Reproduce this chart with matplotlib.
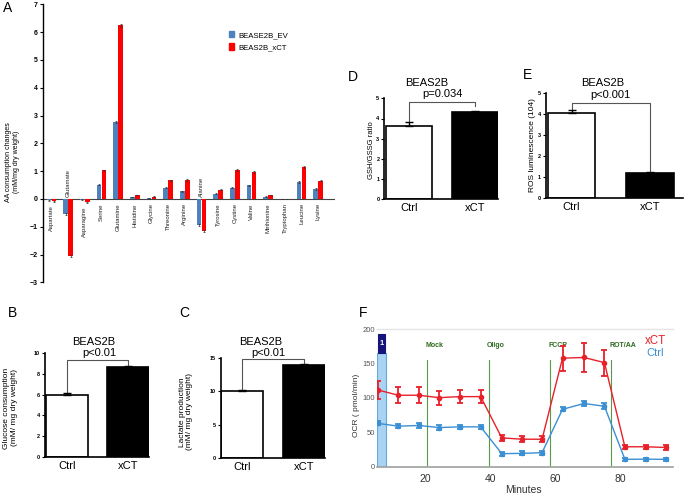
import matplotlib
matplotlib.use('Agg')
import matplotlib.pyplot as plt
from matplotlib.patches import Rectangle, Patch

plt.rcParams['font.family'] = ['Liberation Sans', 'DejaVu Sans']
NARROW = ['Liberation Sans Narrow', 'Liberation Sans', 'DejaVu Sans']

# ---------------- data ----------------
amino_acids = ['Aspartate', 'Glutamate', 'Asparagine', 'Serine', 'Glutamine', 'Histidine',
               'Glycine', 'Threonine', 'Arginine', 'Alanine', 'Tyrosine', 'Cystine',
               'Valine', 'Methionine', 'Tryptophan', 'Leucine', 'Lysine']
ev_values = [-0.04, -0.55, -0.02, 0.52, 2.78, 0.07, 0.02, 0.40, 0.27, -0.93, 0.19, 0.40,
             0.50, 0.08, 0.00, 0.62, 0.36]
xct_values = [-0.08, -2.05, -0.12, 1.03, 6.25, 0.14, 0.08, 0.67, 0.68, -1.15, 0.34, 1.03,
              0.97, 0.14, 0.00, 1.15, 0.65]
ev_err = [0.02, 0.03, 0.01, 0.03, 0.04, 0.01, 0.01, 0.02, 0.02, 0.03, 0.02, 0.02,
          0.02, 0.01, 0.0, 0.03, 0.02]
xct_err = [0.02, 0.05, 0.02, 0.03, 0.05, 0.01, 0.01, 0.03, 0.03, 0.04, 0.02, 0.04,
           0.02, 0.01, 0.0, 0.03, 0.02]
series_names = ['BEASE2B_EV', 'BEAS2B_xCT']

groups = ['Ctrl', 'xCT']
glucose = [6.0, 8.7]
glucose_err = [0.15, 0.05]
lactate = [10.1, 14.0]
lactate_err = [0.1, 0.2]
gsh_ratio = [3.65, 4.33]
gsh_err = [0.17, 0.02]
ros = [4.05, 1.2]
ros_err = [0.15, 0.07]

minutes = [5.5, 11.8, 18.1, 24.3, 30.7, 37.1, 43.6, 49.8, 56.0, 62.3, 68.9, 75.2, 81.5, 87.9, 94.2]
xct_ocr = [111.6, 104, 104, 100.5, 102, 102, 42, 40, 40, 158, 159, 151.5, 29, 29, 28]
xct_ocr_err = [13, 12, 12, 10, 10, 10, 4, 4, 4, 18, 21, 19, 3, 3, 3]
ctrl_ocr = [63, 59, 60, 57, 58, 58, 19, 19.4, 20.4, 83.5, 92, 88, 10.7, 11, 10.7]
ctrl_ocr_err = [3, 3, 3, 3, 3, 3, 3, 3, 3, 3, 4, 4, 2, 2, 2]
injections = ['Mock', 'Oligo', 'FCCP', 'ROT/AA']
injection_times = [20.5, 39.6, 58.5, 77.2]

# ---------------- layout helpers ----------------
W, H = 685, 497
fig = plt.figure(figsize=(W / 100, H / 100), dpi=100)


def rect(l, t, r, b):
    return [l / W, 1 - b / H, (r - l) / W, (b - t) / H]


def fx(x):
    return x / W


def fy(y):
    return 1 - y / H


# ---------------- Panel A ----------------
axA = fig.add_axes(rect(43.3, 4.4, 335, 282.4))
x = list(range(len(amino_acids)))
bw = 0.28
axA.bar([i - 0.15 for i in x], ev_values, width=bw, color='#4f81bd', zorder=2)
axA.bar([i + 0.15 for i in x], xct_values, width=bw, color='#ff0000', zorder=2)
axA.errorbar([i - 0.15 for i in x], ev_values, yerr=ev_err, fmt='none', ecolor='#333333',
             elinewidth=0.5, capsize=1, capthick=0.5, zorder=3)
axA.errorbar([i + 0.15 for i in x], xct_values, yerr=xct_err, fmt='none', ecolor='#333333',
             elinewidth=0.5, capsize=1, capthick=0.5, zorder=3)
axA.set_xlim(-0.5, 17.0)
axA.set_ylim(-3, 7)
axA.axhline(0, color='#444444', lw=0.8, zorder=1)
for s in ['top', 'right', 'bottom']:
    axA.spines[s].set_visible(False)
axA.spines['left'].set_linewidth(1.0)
axA.set_yticks(range(-3, 8))
axA.tick_params(axis='y', direction='out', length=2, width=0.8, labelsize=5, pad=2)
for lab in axA.get_yticklabels():
    lab.set_fontweight('bold')
axA.set_xticks([])
for i, name in enumerate(amino_acids):
    lo = min(ev_values[i], xct_values[i])
    if lo < -0.5:
        axA.text(i, 0.08, name, rotation=90, ha='center', va='bottom', fontsize=4.3, color='#222222')
    else:
        axA.text(i, min(0, lo) - 0.15, name, rotation=90, ha='center', va='top', fontsize=4.3,
                 color='#222222')
handles = [Patch(color='#4f81bd'), Patch(color='#ff0000')]
axA.legend(handles, series_names, loc='upper left', bbox_to_anchor=(fx(225), fy(27)),
           bbox_transform=fig.transFigure, frameon=False, fontsize=5.6, handlelength=0.7,
           handleheight=0.9, handletextpad=0.5, labelspacing=0.6, borderpad=0)
fig.text(fx(12.5), fy(162), 'AA consumption changes\n(mM/mg dry weight)', rotation=90,
         ha='center', va='center', fontsize=5, linespacing=1.3, multialignment='center')
fig.text(fx(7.5), fy(8.5), 'A', fontsize=10, ha='center', va='center')


# ---------------- Bar panels B-E ----------------
def bar_panel(box, vals, errs, width, xlim, ylim, yticks, bracket_y, right_end,
              title_xy, p_text, p_xy, ylabel, ylabel_xy, ylabel_size, letter, letter_xy):
    ax = fig.add_axes(rect(*box))
    ax.bar([0, 1], vals, width=width, color=['white', 'black'], edgecolor='black',
           linewidth=1.2, zorder=2)
    ax.errorbar([0, 1], vals, yerr=[[0, 0], errs], fmt='none', ecolor='black',
                elinewidth=1.0, capsize=3, capthick=1.0, zorder=3)
    ax.plot([0, 0, 1, 1], [vals[0] + errs[0], bracket_y, bracket_y, right_end],
            color='#555555', lw=0.8, clip_on=False, zorder=1)
    ax.set_xlim(*xlim)
    ax.set_ylim(*ylim)
    ax.set_yticks(yticks)
    ax.set_xticks([0, 1])
    ax.set_xticklabels(groups, fontsize=8)
    ax.tick_params(axis='x', length=0, pad=3)
    ax.tick_params(axis='y', direction='out', length=2, width=0.8, labelsize=4, pad=1.5)
    for lab in ax.get_yticklabels():
        lab.set_fontweight('bold')
    for s in ['top', 'right']:
        ax.spines[s].set_visible(False)
    ax.spines['left'].set_linewidth(1.2)
    ax.spines['bottom'].set_linewidth(1.2)
    fig.text(fx(title_xy[0]), fy(title_xy[1]), 'BEAS2B', fontsize=8, ha='center', va='center')
    fig.text(fx(p_xy[0]), fy(p_xy[1]), p_text, fontsize=8, ha='center', va='center')
    fig.text(fx(ylabel_xy[0]), fy(ylabel_xy[1]), ylabel, rotation=90, ha='center', va='center',
             fontsize=ylabel_size, linespacing=1.05, multialignment='center')
    fig.text(fx(letter_xy[0]), fy(letter_xy[1]), letter, fontsize=10, ha='center', va='center')
    return ax


bar_panel((45, 353.3, 149, 456.7), glucose, glucose_err, 0.69, (-0.36, 1.345), (0, 10),
          [0, 2, 4, 6, 8, 10], 9.35, 8.75, (94, 341.7), 'p<0.01', (99.7, 353.3),
          'Glucose consumption\n(mM/ mg dry weight)', (10.5, 408), 6, 'B', (12.5, 313))
bar_panel((220.7, 358.3, 325, 457.7), lactate, lactate_err, 0.67, (-0.345, 1.343), (0, 15),
          [0, 5, 10, 15], 14.9, 14.2, (261, 341.7), 'p<0.01', (268.5, 353),
          'Lactate production\n(mM/ mg dry weight)', (186, 411.7), 6, 'C', (184, 313))
bar_panel((384.3, 98.3, 498.3, 199.3), gsh_ratio, gsh_err, 0.69, (-0.378, 1.354), (0, 5),
          [0, 1, 2, 3, 4, 5], 4.83, 4.62, (427, 83.3), 'p=0.034', (442, 94.3),
          'GSH/GSSG ratio', (371.7, 150), 5.5, 'D', (352.5, 76.7))
bar_panel((546, 93.3, 683, 198.3), ros, ros_err, 0.6, (-0.325, 1.42), (0, 5),
          [0, 1, 2, 3, 4, 5], 4.52, 1.27, (603, 83.3), 'p<0.001', (610, 95),
          'ROS luminescence (104)', (533, 145), 6, 'E', (528, 75))

# ---------------- Panel F ----------------
axF = fig.add_axes(rect(376.7, 329.3, 673.3, 466.7))
axF.set_xlim(5.1, 96.4)
axF.set_ylim(0, 200)
for s in ['top', 'right', 'left']:
    axF.spines[s].set_visible(False)
axF.spines['bottom'].set_color('#a0a0a0')
axF.spines['bottom'].set_linewidth(1.2)
axF.axhline(200, color='#e4e4e4', lw=1.0, zorder=0, clip_on=False)
axF.add_patch(Rectangle((5.1, 0), 2.9, 165, facecolor='#a9d3f2', edgecolor='#5fa8e0',
                        lw=0.8, zorder=1))
axF.add_patch(Rectangle((5.35, 166), 2.3, 26.5, facecolor='#14147a', edgecolor='#14147a',
                        lw=0.8, zorder=1, clip_on=False))
axF.text(6.5, 179, '1', color='white', fontsize=5.5, fontweight='bold', ha='center',
         va='center', family=NARROW)
for t, name in zip(injection_times, injections):
    axF.plot([t, t], [0, 155], color='#5a9a4a', lw=0.8, zorder=1)
    axF.text(t - 0.5, 177, name, color='#2d6a1f', fontsize=5, fontweight='bold',
             ha='left', va='center', family=NARROW)
axF.errorbar(minutes, xct_ocr, yerr=xct_ocr_err, color='#e8202a', lw=1.0, marker='o',
             markersize=3, elinewidth=1.3, capsize=2.5, capthick=1.3, zorder=3)
axF.errorbar(minutes, ctrl_ocr, yerr=ctrl_ocr_err, color='#3b8fd4', lw=1.0, marker='o',
             markersize=3, elinewidth=1.3, capsize=2.2, capthick=1.3, zorder=3)
axF.set_yticks([0, 50, 100, 150, 200])
axF.set_xticks([20, 40, 60, 80])
axF.tick_params(axis='y', length=0, pad=1.5, labelsize=5.5, labelcolor='#555555')
axF.tick_params(axis='x', length=0, pad=5, labelsize=7.5, labelcolor='#333333')
for lab in axF.get_yticklabels():
    lab.set_family(NARROW)
fig.text(fx(356), fy(405), 'OCR ( pmol/min)', rotation=90, ha='center', va='center',
         fontsize=6, color='#333333')
fig.text(fx(523), fy(490), 'Minutes', ha='center', va='center', fontsize=7.5, color='#333333')
fig.text(fx(645), fy(340.7), 'xCT', ha='left', va='center', fontsize=8.3, color='#e8202a')
fig.text(fx(646), fy(352.7), 'Ctrl', ha='left', va='center', fontsize=8, color='#3b8fd4')
fig.text(fx(363), fy(313), 'F', fontsize=10, ha='center', va='center')

fig.savefig('out.png', dpi=100)
